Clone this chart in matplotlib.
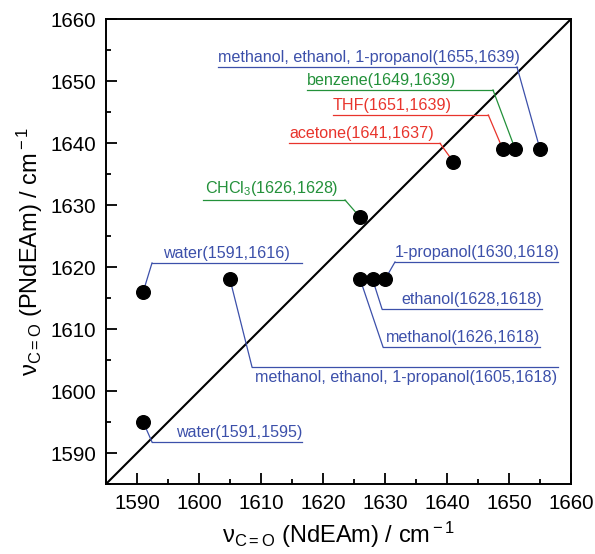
import matplotlib
matplotlib.use('Agg')
import matplotlib.pyplot as plt
from matplotlib.ticker import MultipleLocator

plt.rcParams['font.family'] = ['Liberation Sans', 'DejaVu Sans']
plt.rcParams['mathtext.fontset'] = 'custom'
plt.rcParams['mathtext.rm'] = 'Liberation Sans'
plt.rcParams['mathtext.it'] = 'Liberation Sans:italic'
plt.rcParams['mathtext.bf'] = 'Liberation Sans:bold'

# ---- data ----
x_vals = [1591, 1591, 1605, 1626, 1628, 1630, 1626, 1641, 1649, 1651, 1655]
y_vals = [1595, 1616, 1618, 1618, 1618, 1618, 1628, 1637, 1639, 1639, 1639]

labels = [
    "methanol, ethanol, 1-propanol(1655,1639)",
    "benzene(1649,1639)",
    "THF(1651,1639)",
    "acetone(1641,1637)",
    "CHCl$_3$(1626,1628)",
    "water(1591,1616)",
    "1-propanol(1630,1618)",
    "ethanol(1628,1618)",
    "methanol(1626,1618)",
    "methanol, ethanol, 1-propanol(1605,1618)",
    "water(1591,1595)",
]
label_point = [10, 9, 8, 7, 6, 1, 5, 4, 3, 2, 0]

BLUE = '#3c50aa'
GREEN = '#23913a'
RED = '#e8342c'
label_colors = [BLUE, GREEN, RED, RED, GREEN, BLUE, BLUE, BLUE, BLUE, BLUE, BLUE]

# layout: underline (y, x0, x1), which end connects, text anchor x, ha, above/below
layout = [
    (1652.26, 1603.06, 1651.29, 'right', 1603.06, 'left', 'above'),
    (1648.55, 1617.42, 1647.42, 'right', 1617.42, 'left', 'above'),
    (1644.52, 1621.61, 1646.66, 'right', 1621.61, 'left', 'above'),
    (1639.95, 1614.50, 1638.87, 'right', 1614.60, 'left', 'above'),
    (1630.81, 1600.65, 1623.55, 'right', 1600.95, 'left', 'above'),
    (1620.65, 1592.42, 1616.61, 'left', 1604.50, 'center', 'above'),
    (1620.81, 1631.61, 1657.90, 'left', 1631.61, 'left', 'above'),
    (1613.23, 1629.52, 1655.32, 'left', 1655.40, 'right', 'above'),
    (1607.10, 1629.68, 1655.00, 'left', 1655.00, 'right', 'above'),
    (1603.87, 1608.55, 1657.90, 'left', 1609.03, 'left', 'below'),
    (1591.77, 1592.42, 1616.61, 'left', 1616.61, 'right', 'above'),
]

ticks = [1590, 1600, 1610, 1620, 1630, 1640, 1650, 1660]

fig = plt.figure(figsize=(5.95, 5.54), dpi=100)
ax = fig.add_axes([106/595, 1-484/554, 465/595, 465/554])

ax.plot([1585, 1660], [1585, 1660], color='black', lw=1.5, zorder=1)
ax.plot(x_vals, y_vals, 'o', color='black', markersize=9.8, zorder=4)

for lab, pi, col, lay in zip(labels, label_point, label_colors, layout):
    uy, x0, x1, end, tx, ha, pos = lay
    ax.plot([x0, x1], [uy, uy], color=col, lw=0.9, zorder=2)
    cx = x1 if end == 'right' else x0
    ax.plot([cx, x_vals[pi]], [uy, y_vals[pi]], color=col, lw=0.9, zorder=2)
    if pos == 'above':
        ax.text(tx, uy + 0.3, lab, color=col, fontsize=11.6, ha=ha, va='bottom')
    else:
        ax.text(tx, uy - 0.45, lab, color=col, fontsize=11.6, ha=ha, va='top')

ax.set_xlim(1585, 1660)
ax.set_ylim(1585, 1660)
ax.set_xticks(ticks)
ax.set_yticks(ticks)
ax.xaxis.set_minor_locator(MultipleLocator(5))
ax.yaxis.set_minor_locator(MultipleLocator(5))
ax.tick_params(which='both', direction='in', top=False, right=False, width=1.3,
               labelsize=14.8)
ax.tick_params(which='major', length=8, pad=7)
ax.tick_params(which='minor', length=3.8)
for s in ax.spines.values():
    s.set_linewidth(1.4)

ax.set_xlabel(r'ν$_{\rm C=O}$ (NdEAm) / cm$^{\rm -1}$', fontsize=17, labelpad=5)
ax.set_ylabel(r'ν$_{\rm C=O}$ (PNdEAm) / cm$^{\rm -1}$', fontsize=17, labelpad=4)

fig.savefig('out.png', dpi=100)
